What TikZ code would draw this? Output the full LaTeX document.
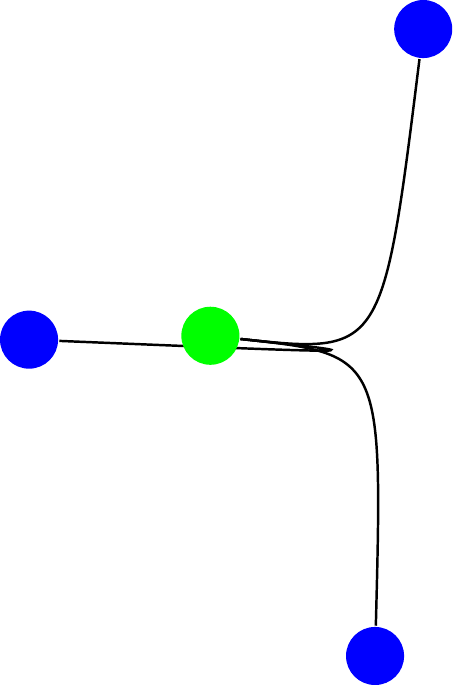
\documentclass[tikz,border=0pt]{standalone}
\usepackage{tikz}
\errorcontextlines=100
\pgfdeclarelayer{edges}
\pgfsetlayers{edges,main}
\newcommand{\hash}[3]{\pgfmathsetmacro#1{abs(mod(sin(#2*17.2331+#3*37.719)*437.585,1))}}
\begin{document}
\begin{tikzpicture}[x=1pt,y=-1pt]
\node[circle,fill=green,minimum size=8pt] (Ans) at (272,157) {};
\foreach \k in {1,...,3}{
  \hash\pa{\k+0.3*272}{1}
  \hash\pb{\k+0.3*272}{2}
  \pgfmathsetmacro\ang{360*(\k-0.5)/3+10*(\pa-0.5)}
  \pgfmathsetmacro\rad{14+(68-14)*(2*\pb-\pb*\pb)}
  \pgfmathsetmacro\lx{272+\rad*cos(\ang)}
  \pgfmathsetmacro\ly{157+\rad*sin(\ang)}
  \node[circle,fill=blue,minimum size=5pt] (Ans-\k) at (\lx,\ly) {};
  \begin{pgfonlayer}{edges}
  \draw (Ans) .. controls (300,160) .. (Ans-\k);
  \end{pgfonlayer}
}
\end{tikzpicture}
\end{document}
